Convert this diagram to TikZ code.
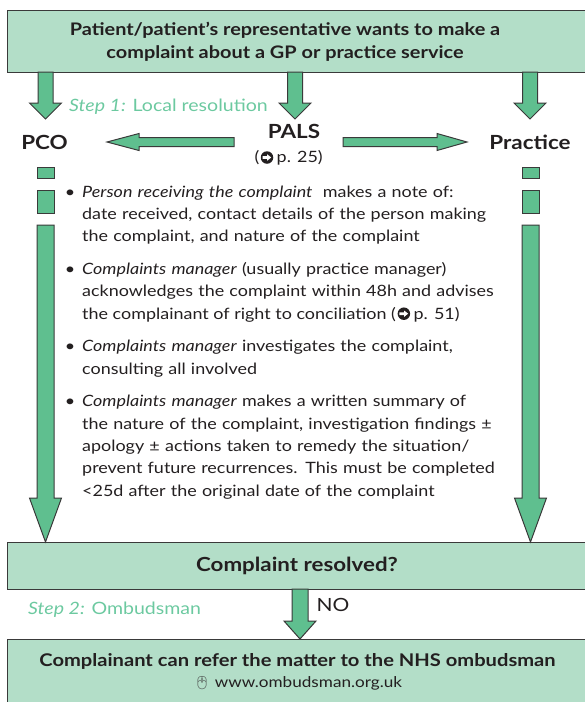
\documentclass[tikz,border=0pt]{standalone}
\usepackage{fontspec}
\setmainfont{Lato}[FakeStretch=1.15]
\newfontfamily\emojifont{Noto Emoji}
\usetikzlibrary{calc}

\definecolor{boxfill}{HTML}{B3DEC8}
\definecolor{arrowfill}{HTML}{5FBF8F}
\definecolor{edge}{HTML}{3A3A3A}
\definecolor{stepgreen}{HTML}{6CC9A0}
\definecolor{bodytext}{HTML}{231F20}

\tikzset{
  flowbox/.style={draw=edge, fill=boxfill, line width=1.2pt, inner sep=0pt, anchor=north west},
  blockarrow/.style={draw=edge, fill=arrowfill, line width=1pt, line join=miter},
  headtext/.style={font=\bfseries\fontsize{17.3}{23}\selectfont, text=bodytext, align=center, inner sep=0pt},
  placetext/.style={font=\bfseries\fontsize{19.5}{22}\selectfont, text=bodytext, inner sep=0pt},
  steptext/.style={font=\fontsize{17}{20}\selectfont, text=stepgreen, inner sep=0pt, anchor=west},
  plaintext/.style={font=\fontsize{15.6}{20}\selectfont, text=bodytext, inner sep=0pt},
  itemtext/.style={font=\fontsize{15.6}{22.3}\selectfont, text=bodytext, inner sep=0pt,
    text width=520pt, align=left, anchor=base west},
  lastline/.style={font=\fontsize{15.6}{22.3}\selectfont, text=bodytext, inner sep=0pt, anchor=base west},
  % cross-reference mark: white arrow on a black disc
  refdisc/.style={circle, fill=bodytext, inner sep=0pt, minimum size=12.5pt,
    path picture={
      \fill[white] ([shift={(-4.4pt,-1.3pt)}]path picture bounding box.center)
        -- ++(4.6pt,0pt) -- ++(0pt,-1.9pt) -- ++(4pt,3.2pt) -- ++(-4pt,3.2pt)
        -- ++(0pt,-1.9pt) -- ++(-4.6pt,0pt) -- cycle;
    }},
}

% vertical block arrow: start, tip, half shaft width, half head width, head length
\newcommand\downblock[5]{%
  \draw[blockarrow] let \p1=(#1), \p2=(#2), \p3=($(#2)!#5!(#1)$) in
    (\x1-#3,\y1) -- (\x1-#3,\y3) -- (\x1-#4,\y3) -- (\x2,\y2) --
    (\x1+#4,\y3) -- (\x1+#3,\y3) -- (\x1+#3,\y1) -- cycle;}
% horizontal block arrow: start, tip, half shaft width, half head width, head length
\newcommand\sideblock[5]{%
  \draw[blockarrow] let \p1=(#1), \p2=(#2), \p3=($(#2)!#5!(#1)$) in
    (\x1,\y1-#3) -- (\x3,\y1-#3) -- (\x3,\y1-#4) -- (\x2,\y2) --
    (\x3,\y1+#4) -- (\x3,\y1+#3) -- (\x1,\y1+#3) -- cycle;}
\newcommand\itembullet{\llap{\textbullet\hspace{7pt}}}

\begin{document}
\begin{tikzpicture}[x=1pt, y=-1pt]
  \useasboundingbox (0,0) rectangle (585,702);
  \clip (0,0) rectangle (585,702);

  % boxes
  \node[flowbox, minimum width=600pt, minimum height=62pt] (request) at (7,10) {};
  \node[headtext] (requesttext) at (285,41.5)
    {Patient/patient’s representative wants to make a\\complaint about a GP or practice service};

  \node[flowbox, minimum width=600pt, minimum height=47pt] (resolved) at (7,542) {};
  \node[font=\bfseries\fontsize{19.4}{22}\selectfont, text=bodytext, inner sep=0pt]
    (resolvedtext) at (297,566) {Complaint resolved?};

  \node[flowbox, minimum width=600pt, minimum height=80pt] (ombud) at (7,639) {};
  \node[font=\bfseries\fontsize{17.5}{20}\selectfont, text=bodytext, inner sep=0pt]
    (ombudtext) at (297.5,661) {Complainant can refer the matter to the NHS ombudsman};
  \node[plaintext, font=\fontsize{14.9}{18}\selectfont] (ombudurl) at (298,683)
    {{\emojifont\color{darkgray}\fontsize{13}{13}\selectfont 🖱}\ www.ombudsman.org.uk};

  % step labels
  \node[steptext] (step1) at (69,107) {\textit{Step 1:} Local resolution};
  \node[steptext] (step2) at (28,610) {\textit{Step 2:} Ombudsman};
  \node[plaintext, font=\fontsize{18.2}{20}\selectfont] (no) at (333,605) {NO};

  % routes
  \node[placetext] (pco) at (44.5,142) {PCO};
  \node[placetext] (pals) at (294,131) {PALS};
  \node[refdisc] (palsmark) at (267,157.5) {};
  \node[lastline, anchor=base east] (palsopen) at ($(palsmark.center)+(-7.5pt,-5.3pt)$) {(};
  \node[lastline] (palsref) at ($(palsmark.center)+(9.5pt,-5.3pt)$) {p. 25)};
  \node[placetext] (practice) at (530,142) {Practice};

  % arrows leaving the request box
  \coordinate (a1) at (45.5,72);  \coordinate (t1) at (45.5,119);
  \coordinate (a2) at (295,72);   \coordinate (t2) at (295,119);
  \coordinate (a3) at (530,72);   \coordinate (t3) at (530,119);
  \downblock{a1}{t1}{7.5pt}{16pt}{16pt}
  \downblock{a2}{t2}{7.5pt}{16pt}{16pt}
  \downblock{a3}{t3}{7.5pt}{16pt}{16pt}

  % PALS passes the complaint on
  \coordinate (lstart) at (234,142); \coordinate (ltip) at (107,142);
  \coordinate (rstart) at (343,142); \coordinate (rtip) at (467,142);
  \sideblock{lstart}{ltip}{4.5pt}{8.5pt}{32pt}
  \sideblock{rstart}{rtip}{4.5pt}{8.5pt}{30pt}

  % dashed block arrows down both sides
  \foreach \cx in {45.5,530.5} {
    \draw[blockarrow] (\cx-8.5,167) rectangle (\cx+8.5,178);
    \draw[blockarrow] (\cx-8.5,190) rectangle (\cx+8.5,213);
  }
  \coordinate (lcol) at (45.5,225);  \coordinate (lend) at (45.5,542);
  \coordinate (rcol) at (530.5,225); \coordinate (rend) at (530.5,542);
  \downblock{lcol}{lend}{8.5pt}{16pt}{44pt}
  \downblock{rcol}{rend}{8.5pt}{16pt}{44pt}

  % not resolved: on to the ombudsman
  \coordinate (nostart) at (300,589); \coordinate (notip) at (300,639);
  \downblock{nostart}{notip}{8pt}{16pt}{18pt}

  % procedure
  \node[itemtext] (item1) at (82,197)
    {\itembullet\textit{Person receiving the complaint}\ \ makes a note of:\\
     date received, contact details of the person making\\
     the complaint, and nature of the complaint};
  \node[itemtext] (item2) at (82,274.4)
    {\itembullet\textit{Complaints manager} (usually practice manager)\\
     acknowledges the complaint within 48h and advises};
  \node[lastline] (item2end) at (82,319)
    {the complainant of right to conciliation (};
  \node[refdisc] (concmark) at ($(item2end.base east)+(7.8pt,5.3pt)$) {};
  \node[lastline] (concref) at ($(concmark.center)+(9.5pt,-5.3pt)$) {p. 51)};
  \node[itemtext] (item3) at (82,351.8)
    {\itembullet\textit{Complaints manager} investigates the complaint,\\
     consulting all involved};
  \node[itemtext] (item4) at (82,406.9)
    {\itembullet\textit{Complaints manager} makes a written summary of\\
     the nature of the complaint, investigation findings ±\\
     apology ± actions taken to remedy the situation/\\
     prevent future recurrences. This must be completed\\
     <25d after the original date of the complaint};
\end{tikzpicture}
\end{document}
